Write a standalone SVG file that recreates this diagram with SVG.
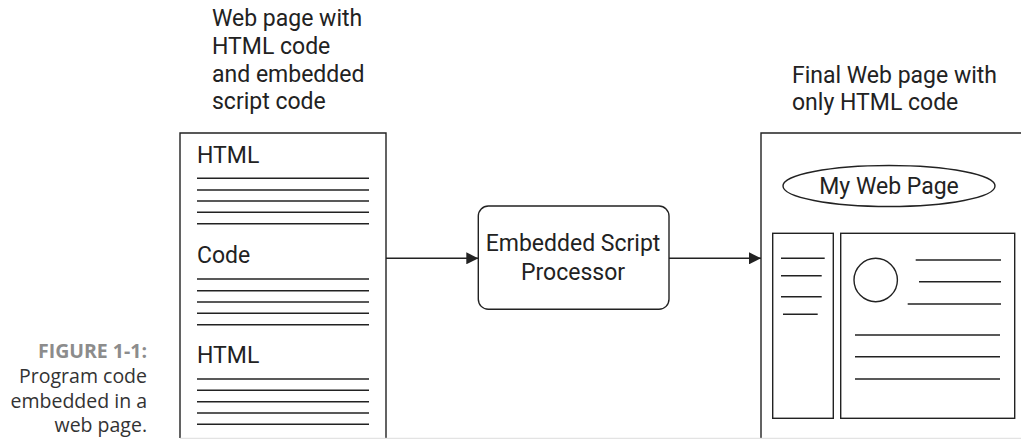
<svg xmlns="http://www.w3.org/2000/svg" width="1021" height="439" viewBox="0 0 1021 439">
<defs>
<style>
.t{font-family:Roboto,"Liberation Sans",Arial,sans-serif;font-size:23px;fill:#222}
.c{font-family:"Open Sans","Noto Sans",sans-serif;font-size:19.5px;fill:#333;text-anchor:end}
.cb{font-weight:bold;fill:#8c8c8c}
.s{fill:none;stroke:#222;stroke-width:1.4}
.l{stroke:#222;stroke-width:1.4}
</style>
<marker id="ah" viewBox="0 0 12 12" refX="12" refY="6" markerWidth="12" markerHeight="12" markerUnits="userSpaceOnUse" orient="auto">
<path d="M0,0 L12,6 L0,12 Z" fill="#222"/>
</marker>
</defs>
<rect width="1021" height="439" fill="#fff"/>

<g id="caption">
<text class="c cb" x="147" y="358">FIGURE 1-1:</text>
<text class="c" x="147" y="383">Program code</text>
<text class="c" x="147" y="407.5">embedded in a</text>
<text class="c" x="147" y="432">web page.</text>
</g>

<g id="source-page">
<text class="t" x="212" y="26">Web page with</text>
<text class="t" x="212" y="54">HTML code</text>
<text class="t" x="212" y="81.5">and embedded</text>
<text class="t" x="212" y="109">script code</text>
<path class="s" d="M180,438 V133 H386 V438"/>
<text class="t" x="197" y="163">HTML</text>
<g class="l">
<line x1="197" y1="178.3" x2="369" y2="178.3"/>
<line x1="197" y1="190" x2="369" y2="190"/>
<line x1="197" y1="201" x2="369" y2="201"/>
<line x1="197" y1="212.3" x2="369" y2="212.3"/>
<line x1="197" y1="223.7" x2="369" y2="223.7"/>
</g>
<text class="t" x="197" y="263">Code</text>
<g class="l">
<line x1="197" y1="279" x2="369" y2="279"/>
<line x1="197" y1="290.7" x2="369" y2="290.7"/>
<line x1="197" y1="302" x2="369" y2="302"/>
<line x1="197" y1="313.3" x2="369" y2="313.3"/>
<line x1="197" y1="324.7" x2="369" y2="324.7"/>
</g>
<text class="t" x="197" y="363">HTML</text>
<g class="l">
<line x1="197" y1="379" x2="369" y2="379"/>
<line x1="197" y1="390.3" x2="369" y2="390.3"/>
<line x1="197" y1="401.7" x2="369" y2="401.7"/>
<line x1="197" y1="413" x2="369" y2="413"/>
<line x1="197" y1="424.3" x2="369" y2="424.3"/>
</g>
</g>

<g id="processor">
<rect class="s" x="478.3" y="206" width="190.7" height="103.3" rx="10"/>
<text class="t" x="573" y="251" text-anchor="middle">Embedded Script</text>
<text class="t" x="573" y="280" text-anchor="middle">Processor</text>
</g>

<g id="final-page">
<text class="t" x="792" y="83">Final Web page with</text>
<text class="t" x="792" y="110">only HTML code</text>
<path class="s" d="M761,438 V133 H1030"/>
<ellipse class="s" cx="889" cy="186" rx="106" ry="20.5"/>
<text class="t" x="889" y="194" text-anchor="middle">My Web Page</text>
<rect class="s" x="772.7" y="233.3" width="60.6" height="185"/>
<rect class="s" x="840.7" y="233.3" width="174" height="185"/>
<g class="l">
<line x1="781" y1="258.3" x2="824.7" y2="258.3"/>
<line x1="781" y1="275.7" x2="821.7" y2="275.7"/>
<line x1="781" y1="296.7" x2="821.7" y2="296.7"/>
<line x1="783" y1="314.3" x2="817.7" y2="314.3"/>
<line x1="915.7" y1="260" x2="1001" y2="260"/>
<line x1="919" y1="281.7" x2="1001" y2="281.7"/>
<line x1="907.7" y1="304" x2="1001" y2="304"/>
<line x1="855" y1="335" x2="1000" y2="335"/>
<line x1="855" y1="356.7" x2="1000" y2="356.7"/>
<line x1="855" y1="379" x2="1000" y2="379"/>
</g>
<circle class="s" cx="875.7" cy="280" r="21.7"/>
</g>

<g id="connectors">
<line class="l" x1="386" y1="258.3" x2="478.3" y2="258.3" marker-end="url(#ah)"/>
<line class="l" x1="669" y1="258.3" x2="761" y2="258.3" marker-end="url(#ah)"/>
</g>
<line x1="180" y1="438.3" x2="1021" y2="438.3" stroke="#ddd" stroke-width="1"/>
</svg>
